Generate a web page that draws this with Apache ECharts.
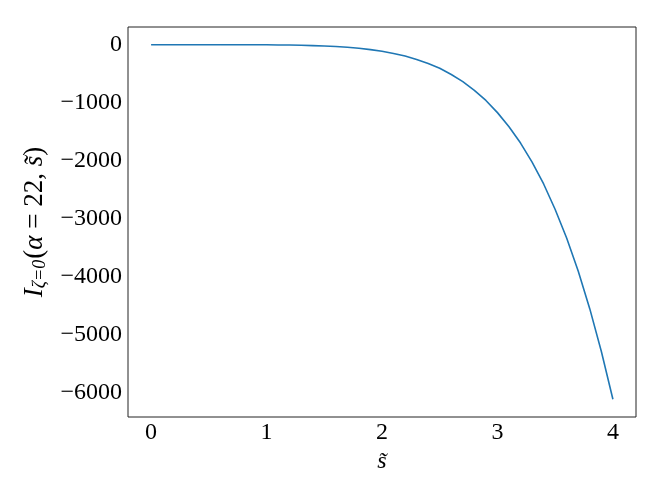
<!DOCTYPE html>
<html>
<head>
<meta charset="utf-8">
<script src="https://cdn.jsdelivr.net/npm/echarts@6/dist/echarts.min.js"></script>
<style>
  html, body { margin: 0; padding: 0; background: #fff; }
  #chart { width: 664px; height: 498px; }
</style>
</head>
<body>
<div id="chart"></div>
<script>
// s~ values (x axis)
const sValues = [
  0.0, 0.1, 0.2, 0.3, 0.4, 0.5, 0.6, 0.7, 0.8, 0.9,
  1.0, 1.1, 1.2, 1.3, 1.4, 1.5, 1.6, 1.7, 1.8, 1.9,
  2.0, 2.1, 2.2, 2.3, 2.4, 2.5, 2.6, 2.7, 2.8, 2.9,
  3.0, 3.1, 3.2, 3.3, 3.4, 3.5, 3.6, 3.7, 3.8, 3.9,
  4.0
]
// I_{zeta=0}(alpha=22, s~)
const iValues = [
  0, 0, 0, 0, 0, 0, -0.1, -0.3, -0.6, -1.2,
  -2, -4, -6, -10, -15, -22, -31, -45, -62, -85,
  -114, -150, -196, -254, -324, -405, -513, -637, -786, -960,
  -1170, -1412, -1694, -2022, -2399, -2838, -3335, -3904, -4551, -5284,
  -6108
]
const xTicks = [0, 1, 2, 3, 4]
const yTicks = [0, -1000, -2000, -3000, -4000, -5000, -6000]

const FONT = 'Liberation Serif'
const chart = echarts.init(document.getElementById('chart'))

// 数据点
const lineData = sValues.map((s, i) => [s, iValues[i]])

const option = {
  animation: false,
  grid: {
    left: 128,
    right: 28,
    top: 27,
    bottom: 81,
    show: true,
    borderColor: '#222',
    borderWidth: 1,
    backgroundColor: 'transparent',
  },
  xAxis: {
    type: 'value',
    min: -0.2,
    max: 4.2,
    name: 's\u0303',
    nameLocation: 'middle',
    nameGap: 31,
    nameTextStyle: { fontFamily: FONT, fontStyle: 'italic', fontSize: 24, color: '#000' },
    axisLine: { show: false },
    axisTick: { show: false },
    splitLine: { show: false },
    axisLabel: {
      customValues: xTicks,
      fontFamily: FONT,
      fontSize: 24,
      color: '#000',
      margin: 4,
      formatter: (v) => String(v),
    },
  },
  yAxis: {
    type: 'value',
    min: -6413,
    max: 305,
    name: '{i|I}{sub|ζ=0}{n|(}{i|α}{n| = 22, }{i|s\u0303}{n|)}',
    nameLocation: 'middle',
    nameGap: 76,
    nameRotate: 90,
    nameTextStyle: {
      fontFamily: FONT,
      fontSize: 26,
      color: '#000',
      rich: {
        i: { fontFamily: FONT, fontStyle: 'italic', fontSize: 27, color: '#000' },
        n: { fontFamily: FONT, fontSize: 27, color: '#000' },
        sub: { fontFamily: FONT, fontStyle: 'italic', fontSize: 18, color: '#000', padding: [11, 1, 0, 0] },
      },
    },
    axisLine: { show: false },
    axisTick: { show: false },
    splitLine: { show: false },
    axisLabel: {
      customValues: yTicks,
      fontFamily: FONT,
      fontSize: 24,
      color: '#000',
      margin: 6,
      formatter: (v) => String(v).replace('-', '\u2212'),
    },
  },
  series: [
    {
      type: 'line',
      data: lineData,
      showSymbol: false,
      smooth: false,
      lineStyle: { color: '#1f77b4', width: 1.6 },
      itemStyle: { color: '#1f77b4' },
    },
  ],
}

chart.setOption(option)
</script>
</body>
</html>
